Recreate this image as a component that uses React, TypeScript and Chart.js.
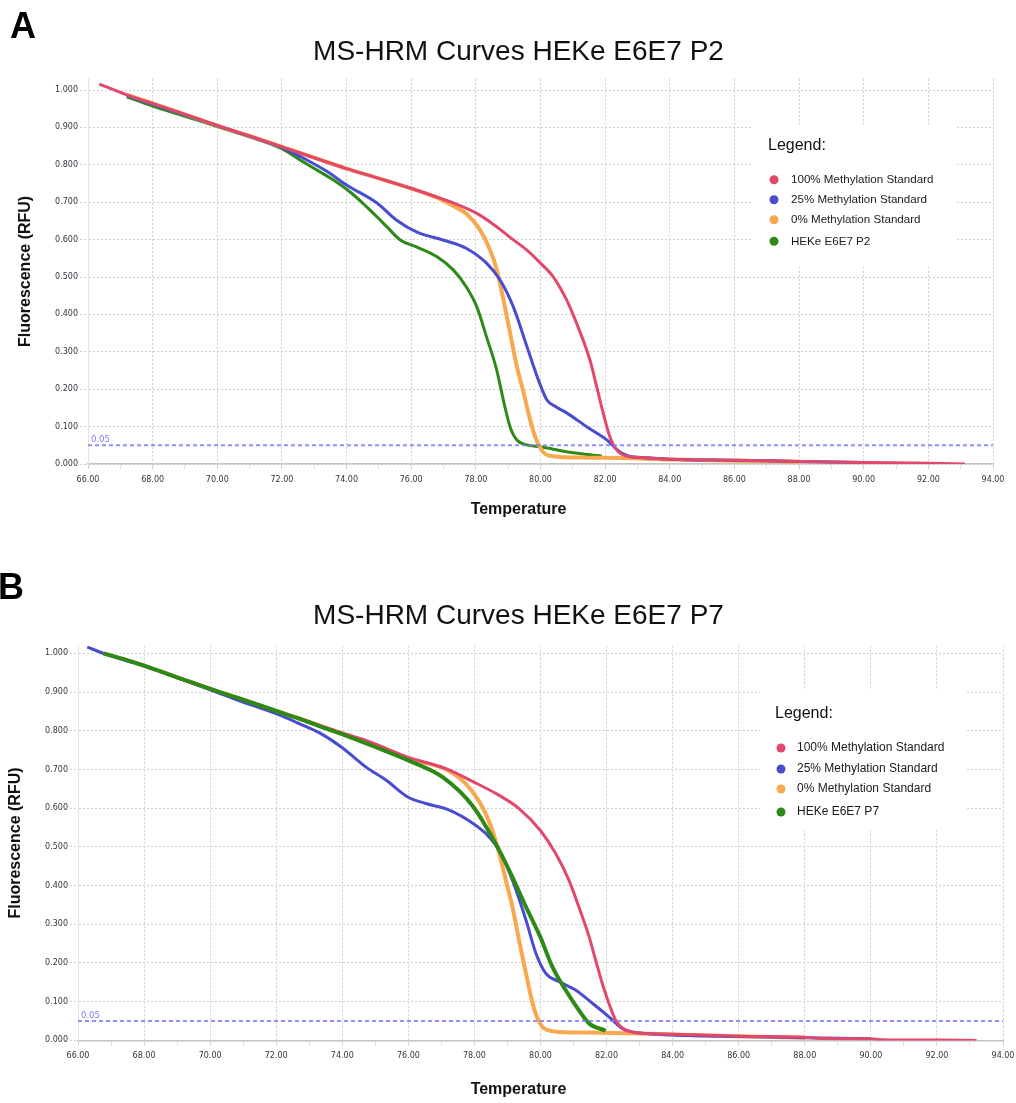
import React, { useEffect, useRef } from 'react';
import { Chart, registerables } from 'chart.js';

Chart.register(...registerables);

// ---------- data ----------
const TITLE_A = 'MS-HRM Curves HEKe E6E7 P2';
const TITLE_B = 'MS-HRM Curves HEKe E6E7 P7';
const X_TITLE = 'Temperature';
const Y_TITLE = 'Fluorescence (RFU)';
const LEGEND_TITLE = 'Legend:';
const LABELS_A = ['100% Methylation Standard', '25% Methylation Standard', '0% Methylation Standard', 'HEKe E6E7 P2'];
const LABELS_B = ['100% Methylation Standard', '25% Methylation Standard', '0% Methylation Standard', 'HEKe E6E7 P7'];
const COLORS = ['#e2486c', '#4a4ccf', '#f8a84e', '#2e8a16'];

const X_MAJOR = [66, 68, 70, 72, 74, 76, 78, 80, 82, 84, 86, 88, 90, 92, 94];
const X_MINOR = [67, 69, 71, 73, 75, 77, 79, 81, 83, 85, 87, 89, 91, 93];
const Y_TICKS = [0, 0.1, 0.2, 0.3, 0.4, 0.5, 0.6, 0.7, 0.8, 0.9, 1.0];
const THRESHOLD = 0.05;

// Panel A
const A_RED_T = [66.35, 67.2, 68, 69, 70, 71, 72, 73.2, 74, 74.95, 75.96, 77.3, 78.03, 78.6, 79.15, 79.58, 80, 80.4, 80.8, 81.2, 81.53, 81.74, 81.94, 82.15, 82.36, 82.7, 83, 84, 86, 88, 90, 92, 93.13];
const A_RED_F = [1.016, 0.987, 0.964, 0.935, 0.905, 0.877, 0.848, 0.813, 0.79, 0.765, 0.738, 0.698, 0.67, 0.637, 0.6, 0.572, 0.537, 0.5, 0.44, 0.358, 0.278, 0.206, 0.136, 0.072, 0.037, 0.02, 0.018, 0.013, 0.01, 0.007, 0.004, 0.002, 0];
const A_BLUE_T = [67.2, 68, 69, 70, 71, 72, 72.77, 73.4, 74, 74.94, 75.55, 76.18, 76.98, 77.7, 78.33, 78.75, 79.16, 79.58, 79.9, 80.2, 80.5, 80.82, 81.44, 82.06, 82.46, 82.77, 83.2, 84, 86, 88, 90];
const A_BLUE_F = [0.985, 0.962, 0.934, 0.905, 0.876, 0.846, 0.813, 0.782, 0.746, 0.698, 0.652, 0.62, 0.599, 0.577, 0.537, 0.492, 0.42, 0.314, 0.233, 0.171, 0.152, 0.136, 0.099, 0.064, 0.032, 0.02, 0.017, 0.013, 0.01, 0.007, 0.004];
const A_ORANGE_T = [67.2, 68, 69, 70, 71, 72, 73.2, 74, 74.95, 75.96, 76.8, 77.3, 77.7, 78.13, 78.44, 78.65, 78.85, 79.06, 79.27, 79.48, 79.68, 79.84, 80, 80.2, 80.5, 80.8, 81.5, 82.5, 83, 84, 86, 88];
const A_ORANGE_F = [0.987, 0.964, 0.935, 0.905, 0.877, 0.848, 0.813, 0.79, 0.765, 0.738, 0.712, 0.69, 0.67, 0.626, 0.572, 0.519, 0.44, 0.35, 0.26, 0.19, 0.118, 0.072, 0.042, 0.024, 0.02, 0.018, 0.017, 0.016, 0.015, 0.012, 0.009, 0.006];
const A_GREEN_T = [67.2, 68, 69, 70, 71, 72, 72.56, 73, 73.58, 74.1, 74.63, 74.94, 75.25, 75.66, 76.18, 76.8, 77.3, 77.7, 78.03, 78.33, 78.65, 78.85, 79.06, 79.27, 79.58, 80, 80.8, 81.4, 81.9];
const A_GREEN_F = [0.982, 0.957, 0.93, 0.902, 0.875, 0.843, 0.813, 0.79, 0.76, 0.728, 0.687, 0.661, 0.634, 0.599, 0.58, 0.554, 0.519, 0.474, 0.42, 0.34, 0.25, 0.171, 0.099, 0.064, 0.051, 0.046, 0.033, 0.026, 0.021];

// Panel B
const B_RED_T = [66.77, 67.5, 68, 69, 70, 70.97, 72, 72.71, 73.97, 74.72, 75.98, 77.14, 77.97, 78.75, 79.35, 79.99, 80.46, 80.86, 81.16, 81.47, 81.67, 81.87, 82.07, 82.27, 82.57, 83.17, 84, 86, 88, 88.5, 90, 90.3, 92, 93.2];
const B_RED_F = [1.0, 0.982, 0.968, 0.938, 0.908, 0.881, 0.851, 0.831, 0.795, 0.775, 0.732, 0.702, 0.668, 0.633, 0.599, 0.543, 0.483, 0.414, 0.345, 0.268, 0.207, 0.147, 0.096, 0.053, 0.027, 0.018, 0.016, 0.011, 0.008, 0.005, 0.004, 0.002, 0.001, 0];
const B_BLUE_T = [66.28, 66.77, 67.5, 68, 69, 70, 70.97, 72, 72.71, 73.3, 73.97, 74.72, 75.33, 75.98, 76.53, 77.24, 77.97, 78.35, 78.75, 79.15, 79.56, 79.86, 80.16, 80.56, 81.06, 81.57, 82.07, 82.47, 82.77, 83.2, 84, 86, 88, 90];
const B_BLUE_F = [1.016, 1.0, 0.98, 0.968, 0.937, 0.906, 0.875, 0.844, 0.818, 0.795, 0.758, 0.706, 0.672, 0.629, 0.612, 0.595, 0.56, 0.534, 0.491, 0.414, 0.311, 0.225, 0.173, 0.152, 0.13, 0.096, 0.061, 0.031, 0.022, 0.018, 0.014, 0.01, 0.007, 0.004];
const B_ORANGE_T = [66.77, 67.5, 68, 69, 70, 70.97, 72, 72.71, 73.97, 75, 75.98, 77.14, 77.74, 78.24, 78.54, 78.75, 78.95, 79.15, 79.35, 79.56, 79.76, 79.91, 80.11, 80.56, 81.77, 83, 84, 86, 88];
const B_ORANGE_F = [1.0, 0.982, 0.968, 0.938, 0.908, 0.881, 0.851, 0.831, 0.793, 0.76, 0.728, 0.7, 0.663, 0.603, 0.543, 0.483, 0.414, 0.345, 0.259, 0.173, 0.096, 0.057, 0.031, 0.022, 0.02, 0.018, 0.015, 0.011, 0.007];
const B_GREEN_T = [66.77, 67.5, 68, 69, 70, 70.97, 72, 72.71, 73.3, 73.97, 75, 75.98, 77.04, 77.97, 78.75, 79.15, 79.56, 79.99, 80.36, 80.76, 81.16, 81.47, 81.97];
const B_GREEN_F = [1.0, 0.982, 0.968, 0.938, 0.908, 0.881, 0.851, 0.831, 0.812, 0.792, 0.758, 0.724, 0.68, 0.603, 0.491, 0.422, 0.345, 0.268, 0.19, 0.13, 0.078, 0.044, 0.025];

// ---------- helpers ----------
const SANS = '"Liberation Sans", Arial, sans-serif';
const TICK_FONT = '"DejaVu Sans", Verdana, sans-serif';

const zip = (t: number[], f: number[]) => t.map((x, i) => ({ x, y: f[i] }));

const legendPlugin = {
  id: 'hrmLegend',
  afterDraw(chart: any, _args: any, opts: any) {
    const { ctx, chartArea } = chart;
    const x0 = chartArea.right - opts.fromRight;
    const y0 = chartArea.top + opts.fromTop;
    ctx.save();
    ctx.fillStyle = '#ffffff';
    ctx.fillRect(x0, y0, opts.width, opts.height);
    ctx.textAlign = 'left';
    ctx.textBaseline = 'middle';
    ctx.fillStyle = '#111111';
    ctx.font = `${opts.titleSize}px ${SANS}`;
    ctx.fillText(opts.title, x0 + opts.titleX, y0 + opts.titleY);
    ctx.font = `${opts.itemSize}px ${SANS}`;
    opts.rows.forEach((ry: number, i: number) => {
      const ds = chart.data.datasets[i];
      ctx.fillStyle = ds.borderColor;
      ctx.beginPath();
      ctx.arc(x0 + opts.dotX, y0 + ry, 4.5, 0, Math.PI * 2);
      ctx.fill();
      ctx.fillStyle = '#1a1a1a';
      ctx.fillText(ds.label, x0 + opts.textX, y0 + ry);
    });
    ctx.restore();
  },
};

const thresholdLabelPlugin = {
  id: 'thresholdLabel',
  afterDatasetsDraw(chart: any) {
    const { ctx, chartArea, scales } = chart;
    const y = scales.y.getPixelForValue(THRESHOLD);
    ctx.save();
    ctx.fillStyle = '#7b7bf2';
    ctx.font = `8.5px ${TICK_FONT}`;
    ctx.textAlign = 'left';
    ctx.textBaseline = 'bottom';
    ctx.fillText(String(THRESHOLD), chartArea.left + 3, y - 1);
    ctx.restore();
  },
};

type Panel = {
  title: string;
  labels: string[];
  series: { t: number[]; f: number[] }[];
  widths: number[];
  orders: number[];
  yMax: number;
  titlePad: { top: number; bottom: number };
  xTitlePadBottom: number;
  xAxisHeight: number;
  xPadRight: number;
  yAxisWidth: number;
  yTitlePad: number;
  legend: any;
};

function buildConfig(p: Panel): any {
  const datasets: any[] = p.series.map((s, i) => ({
    label: p.labels[i],
    data: zip(s.t, s.f),
    borderColor: COLORS[i],
    backgroundColor: COLORS[i],
    borderWidth: p.widths[i],
    pointRadius: 0,
    cubicInterpolationMode: 'monotone',
    fill: false,
    order: p.orders[i],
  }));
  datasets.push({
    label: 'threshold',
    data: [
      { x: X_MAJOR[0], y: THRESHOLD },
      { x: X_MAJOR[X_MAJOR.length - 1], y: THRESHOLD },
    ],
    borderColor: 'rgba(125,125,250,0.85)',
    borderWidth: 2,
    borderDash: [4, 3],
    pointRadius: 0,
    fill: false,
    order: -1,
  });
  const gridColor = '#d0d0d0';
  return {
    type: 'line',
    data: { datasets },
    options: {
      responsive: false,
      animation: false,
      events: [],
      layout: { padding: 0 },
      plugins: {
        legend: { display: false },
        tooltip: { enabled: false },
        title: {
          display: true,
          text: p.title,
          color: '#111111',
          font: { family: SANS, size: 28, weight: 'normal', lineHeight: 1.2 },
          padding: p.titlePad,
        },
        subtitle: {
          display: true,
          position: 'bottom',
          text: X_TITLE,
          color: '#111111',
          font: { family: SANS, size: 16, weight: 'bold', lineHeight: 1.2 },
          padding: { top: 0, bottom: p.xTitlePadBottom },
        },
        hrmLegend: p.legend,
      },
      scales: {
        x: {
          type: 'linear',
          min: X_MAJOR[0],
          max: X_MAJOR[X_MAJOR.length - 1],
          afterBuildTicks: (s: any) => {
            s.ticks = [...X_MAJOR, ...X_MINOR].sort((a, b) => a - b).map((v) => ({ value: v }));
          },
          afterFit: (s: any) => {
            s.height = p.xAxisHeight;
            s.paddingRight = p.xPadRight;
          },
          ticks: {
            autoSkip: false,
            maxRotation: 0,
            padding: 6,
            color: '#33333f',
            font: { family: TICK_FONT, size: 8 },
            callback: (v: number) => (X_MAJOR.includes(v) ? v.toFixed(2) : ''),
          },
          grid: {
            color: (c: any) => (c.tick && X_MAJOR.includes(c.tick.value) ? gridColor : 'rgba(0,0,0,0)'),
            tickColor: (c: any) => (c.tick && X_MAJOR.includes(c.tick.value) ? gridColor : '#e0e0e0'),
            tickLength: 5,
            lineWidth: 1,
          },
          border: { display: true, color: '#c4c4c4', width: 1.5, dash: [2, 2] },
        },
        y: {
          type: 'linear',
          min: 0,
          max: p.yMax,
          afterBuildTicks: (s: any) => {
            s.ticks = Y_TICKS.map((v) => ({ value: v }));
          },
          afterFit: (s: any) => {
            s.width = p.yAxisWidth;
          },
          ticks: {
            padding: 2,
            color: '#33333f',
            font: { family: TICK_FONT, size: 8 },
            callback: (v: number) => v.toFixed(3),
          },
          grid: {
            color: gridColor,
            tickColor: gridColor,
            tickLength: 8,
            tickBorderDash: [2, 2],
            lineWidth: 1,
          },
          border: { display: true, color: '#e4e4e4', width: 1, dash: [2, 2] },
          title: {
            display: true,
            text: Y_TITLE,
            color: '#111111',
            font: { family: SANS, size: 16, weight: 'bold', lineHeight: 1.2 },
            padding: { top: p.yTitlePad, bottom: 0 },
          },
        },
      },
    },
    plugins: [legendPlugin, thresholdLabelPlugin],
  };
}

const PANEL_A: Panel = {
  title: TITLE_A,
  labels: LABELS_A,
  series: [
    { t: A_RED_T, f: A_RED_F },
    { t: A_BLUE_T, f: A_BLUE_F },
    { t: A_ORANGE_T, f: A_ORANGE_F },
    { t: A_GREEN_T, f: A_GREEN_F },
  ],
  widths: [3, 3, 4, 3],
  orders: [0, 1, 2, 3],
  yMax: 1.03,
  titlePad: { top: 35.2, bottom: 10.0 },
  xTitlePadBottom: 20.4,
  xAxisHeight: 36.4,
  xPadRight: 44,
  yAxisWidth: 88,
  yTitlePad: 16.4,
  legend: {
    title: LEGEND_TITLE,
    fromRight: 241,
    fromTop: 46,
    width: 204,
    height: 140,
    titleSize: 16,
    itemSize: 11.6,
    titleX: 16,
    titleY: 21,
    dotX: 22,
    textX: 39,
    rows: [55, 75, 95, 116.5],
  },
};

const PANEL_B: Panel = {
  title: TITLE_B,
  labels: LABELS_B,
  series: [
    { t: B_RED_T, f: B_RED_F },
    { t: B_BLUE_T, f: B_BLUE_F },
    { t: B_ORANGE_T, f: B_ORANGE_F },
    { t: B_GREEN_T, f: B_GREEN_F },
  ],
  widths: [3, 3, 4, 4],
  orders: [1, 2, 3, 0],
  yMax: 1.02,
  titlePad: { top: 39.2, bottom: 12.8 },
  xTitlePadBottom: 3.4,
  xAxisHeight: 40,
  xPadRight: 34,
  yAxisWidth: 78,
  yTitlePad: 6,
  legend: {
    title: LEGEND_TITLE,
    fromRight: 243,
    fromTop: 44.4,
    width: 207,
    height: 140,
    titleSize: 16,
    itemSize: 12,
    titleX: 15,
    titleY: 24,
    dotX: 21,
    textX: 37,
    rows: [58, 79, 99, 122],
  },
};

function HrmChart({ panel, width, height, top }: { panel: Panel; width: number; height: number; top: number }) {
  const ref = useRef<HTMLCanvasElement | null>(null);
  useEffect(() => {
    if (!ref.current) return;
    const chart = new Chart(ref.current, buildConfig(panel));
    return () => chart.destroy();
  }, [panel]);
  return (
    <canvas
      ref={ref}
      width={width}
      height={height}
      style={{ position: 'absolute', left: 0, top, width, height, display: 'block' }}
    />
  );
}

const letterStyle: React.CSSProperties = {
  position: 'absolute',
  fontFamily: SANS,
  fontWeight: 'bold',
  fontSize: 36,
  lineHeight: '36px',
  color: '#000',
};

export default function App() {
  return (
    <div
      style={{
        position: 'absolute',
        left: 0,
        top: 0,
        width: 1016,
        height: 1103,
        overflow: 'hidden',
        background: '#ffffff',
      }}
    >
      <HrmChart panel={PANEL_A} width={1037} height={540} top={0} />
      <HrmChart panel={PANEL_B} width={1037} height={543} top={560} />
      <div style={{ ...letterStyle, left: 10, top: 8 }}>A</div>
      <div style={{ ...letterStyle, left: -2, top: 569 }}>B</div>
    </div>
  );
}
